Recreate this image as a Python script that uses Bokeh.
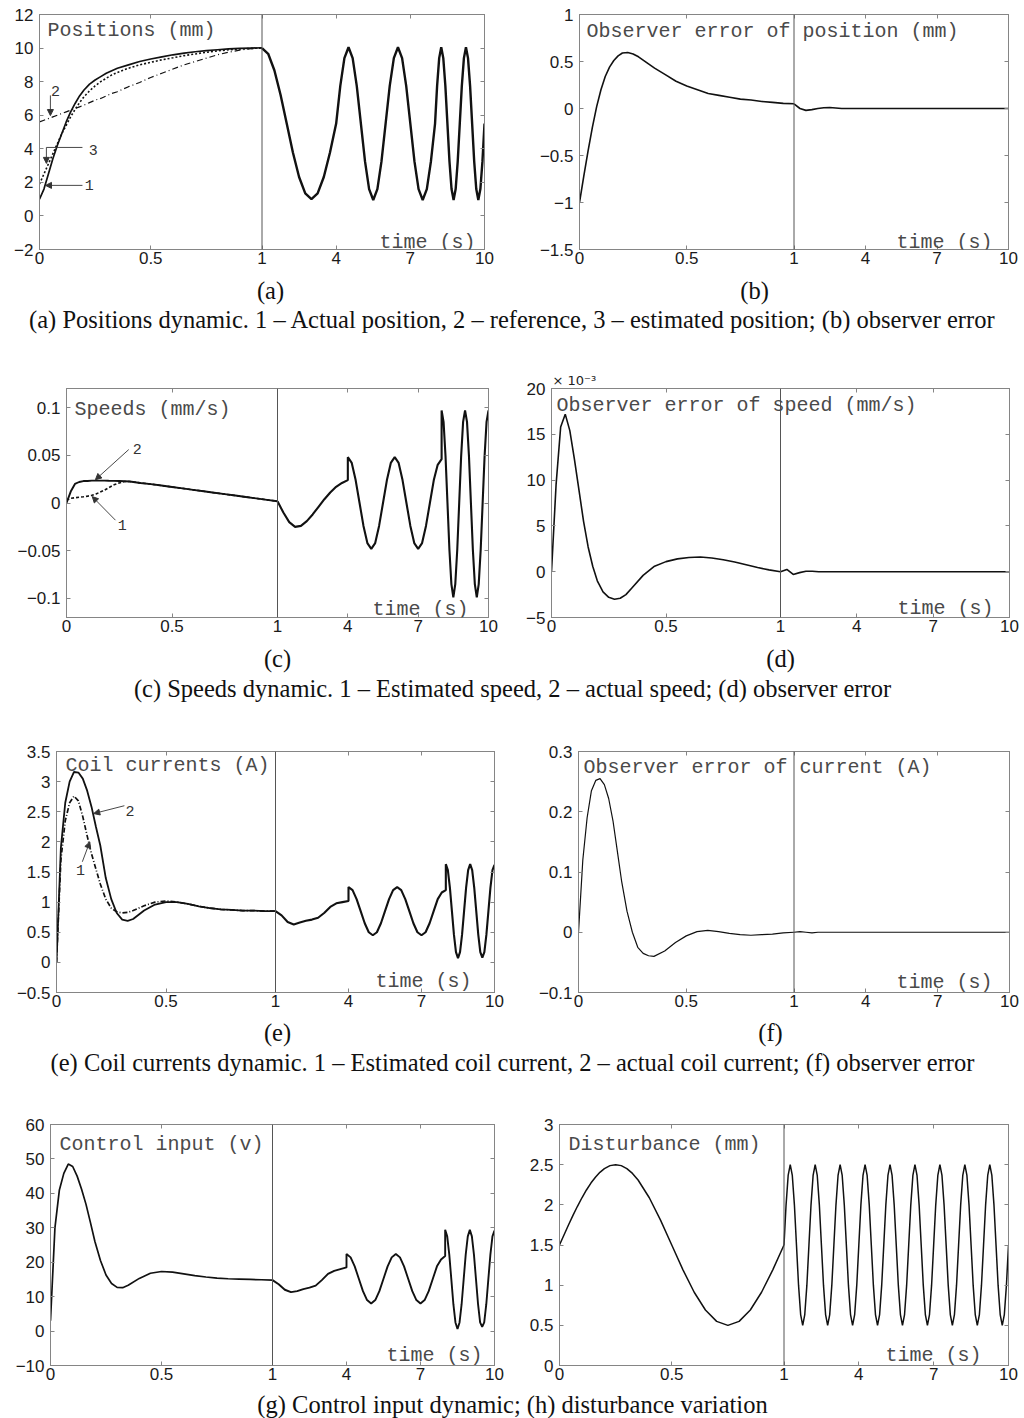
from bokeh.plotting import figure
from bokeh.models import Range1d, LinearAxis, FixedTicker, Span, Label, Arrow, NormalHead, Title
from bokeh.layouts import column, row
from bokeh.embed import file_html
from bokeh.resources import INLINE
from bokeh.core.properties import value

# ---------------- time grids (s) ----------------
t_early = [0.0, 0.02, 0.04, 0.06, 0.08, 0.1, 0.12, 0.14, 0.16, 0.18, 0.2, 0.225, 0.25, 0.275,
           0.3, 0.325, 0.35, 0.4, 0.45, 0.5, 0.55, 0.6, 0.65, 0.7, 0.75, 0.8, 0.85, 0.9, 0.95, 1.0]
t_late = [1.0, 1.25, 1.5, 1.75, 2.0, 2.25, 2.5, 2.75, 3.0, 3.25, 3.5, 3.75, 4.0,
          4.0, 4.167, 4.333, 4.5, 4.667, 4.833, 5.0, 5.167, 5.333, 5.5, 5.667, 5.833,
          6.0, 6.167, 6.333, 6.5, 6.667, 6.833, 7.0, 7.167, 7.333, 7.5, 7.667, 7.833, 8.0,
          8.0, 8.083, 8.167, 8.25, 8.333, 8.417, 8.5, 8.583, 8.667, 8.75, 8.833, 8.917,
          9.0, 9.083, 9.167, 9.25, 9.333, 9.417, 9.5, 9.583, 9.667, 9.75, 9.833, 9.917, 10.0]
t_flat = [1.0, 1.25, 1.5, 1.75, 2.0, 2.25, 2.5, 2.75, 3.0, 3.5, 4.0, 7.0, 10.0]
t_dist = [1.0, 1.083, 1.167, 1.25, 1.333, 1.417, 1.5, 1.583, 1.667, 1.75, 1.833, 1.917,
          2.0, 2.083, 2.167, 2.25, 2.333, 2.417, 2.5, 2.583, 2.667, 2.75, 2.833, 2.917,
          3.0, 3.083, 3.167, 3.25, 3.333, 3.417, 3.5, 3.583, 3.667, 3.75, 3.833, 3.917,
          4.0, 4.083, 4.167, 4.25, 4.333, 4.417, 4.5, 4.583, 4.667, 4.75, 4.833, 4.917,
          5.0, 5.083, 5.167, 5.25, 5.333, 5.417, 5.5, 5.583, 5.667, 5.75, 5.833, 5.917,
          6.0, 6.083, 6.167, 6.25, 6.333, 6.417, 6.5, 6.583, 6.667, 6.75, 6.833, 6.917,
          7.0, 7.083, 7.167, 7.25, 7.333, 7.417, 7.5, 7.583, 7.667, 7.75, 7.833, 7.917,
          8.0, 8.083, 8.167, 8.25, 8.333, 8.417, 8.5, 8.583, 8.667, 8.75, 8.833, 8.917,
          9.0, 9.083, 9.167, 9.25, 9.333, 9.417, 9.5, 9.583, 9.667, 9.75, 9.833, 9.917,
          10.0]

x_tick_times = [0, 0.5, 1, 4, 7, 10]
x_tick_labels = ["0", "0.5", "1", "4", "7", "10"]

# ---------------- (a) positions (mm) ----------------
a_actual = [1.0, 1.6, 2.5, 3.4, 4.2, 4.9, 5.6, 6.2, 6.7, 7.15, 7.5, 7.85, 8.1, 8.3, 8.5, 8.65, 8.8,
            9.0, 9.2, 9.35, 9.48, 9.6, 9.7, 9.78, 9.85, 9.9, 9.95, 9.98, 10.0, 10.02]
a_reference = [5.6, 5.7, 5.8, 5.9, 6.0, 6.1, 6.2, 6.3, 6.4, 6.5, 6.6, 6.75, 6.9, 7.0, 7.15, 7.3, 7.4,
               7.7, 7.95, 8.25, 8.5, 8.75, 9.0, 9.2, 9.4, 9.6, 9.75, 9.88, 9.96, 10.0]
a_estimated = [1.9, 2.5, 3.1, 3.7, 4.3, 4.9, 5.4, 5.9, 6.35, 6.75, 7.1, 7.45, 7.75, 8.0, 8.2, 8.4, 8.55,
               8.8, 9.0, 9.15, 9.3, 9.42, 9.55, 9.65, 9.75, 9.83, 9.9, 9.95, 9.98, 10.0]
a_late = [10.0, 9.66, 8.68, 7.22, 5.5, 3.78, 2.32, 1.34, 1.0, 1.34, 2.32, 3.78, 5.5,
          5.5, 7.75, 9.4, 10.05, 9.4, 7.75, 5.5, 3.25, 1.6, 0.95, 1.6, 3.25,
          5.5, 7.75, 9.4, 10.05, 9.4, 7.75, 5.5, 3.25, 1.6, 0.95, 1.6, 3.25, 5.5,
          5.5, 7.75, 9.4, 10.05, 9.4, 7.75, 5.5, 3.25, 1.6, 0.95, 1.6, 3.25,
          5.5, 7.75, 9.4, 10.05, 9.4, 7.75, 5.5, 3.25, 1.6, 0.95, 1.6, 3.25, 5.5]
a_yticks = [-2, 0, 2, 4, 6, 8, 10, 12]
a_ylabels = ["\u22122", "0", "2", "4", "6", "8", "10", "12"]

# ---------------- (b) observer error of position (mm) ----------------
b_early = [-1.0, -0.72, -0.45, -0.2, 0.02, 0.2, 0.34, 0.44, 0.51, 0.56, 0.59, 0.595, 0.58, 0.55, 0.51,
           0.47, 0.43, 0.36, 0.29, 0.24, 0.2, 0.16, 0.14, 0.12, 0.1, 0.09, 0.075, 0.065, 0.055, 0.05]
b_late = [0.05, 0.0, -0.02, -0.012, 0.0, 0.008, 0.01, 0.005, 0.0, 0.0, 0.0, 0.0, 0.0]
b_yticks = [-1.5, -1, -0.5, 0, 0.5, 1]
b_ylabels = ["\u22121.5", "\u22121", "\u22120.5", "0", "0.5", "1"]

# ---------------- (c) speeds (mm/s) ----------------
c_actual = [0.0, 0.012, 0.02, 0.022, 0.023, 0.023, 0.0235, 0.0235, 0.0235, 0.0235, 0.0233, 0.0232,
            0.023, 0.0228, 0.0225, 0.0218, 0.021, 0.0198, 0.0183, 0.0168, 0.0153, 0.0138, 0.0123,
            0.0108, 0.0093, 0.0078, 0.0063, 0.0048, 0.0033, 0.0018]
c_estimated = [0.003, 0.005, 0.0055, 0.006, 0.0065, 0.0072, 0.008, 0.0095, 0.0115, 0.0135, 0.016,
               0.019, 0.021, 0.0225, 0.0225, 0.0218, 0.021, 0.0198, 0.0183, 0.0168, 0.0153, 0.0138,
               0.0123, 0.0108, 0.0093, 0.0078, 0.0063, 0.0048, 0.0033, 0.0018]
c_late = [0.0018, -0.01, -0.02, -0.025, -0.024, -0.019, -0.012, -0.004, 0.004, 0.011, 0.017, 0.021, 0.024,
          0.048, 0.042, 0.024, 0.0, -0.024, -0.042, -0.048, -0.042, -0.024, 0.0, 0.024, 0.042,
          0.048, 0.042, 0.024, 0.0, -0.024, -0.042, -0.048, -0.042, -0.024, 0.0, 0.024, 0.040, 0.046,
          0.097, 0.085, 0.049, 0.0, -0.049, -0.085, -0.099, -0.085, -0.049, 0.0, 0.049, 0.085,
          0.097, 0.085, 0.049, 0.0, -0.049, -0.085, -0.099, -0.085, -0.049, 0.0, 0.049, 0.085, 0.097]
c_yticks = [-0.1, -0.05, 0, 0.05, 0.1]
c_ylabels = ["\u22120.1", "\u22120.05", "0", "0.05", "0.1"]

# ---------------- (d) observer error of speed (x 10^-3 mm/s) ----------------
d_early_e3 = [0.0, 9.5, 15.8, 17.2, 15.4, 12.3, 8.9, 5.5, 2.7, 0.6, -1.0, -2.2, -2.8, -3.0, -2.9,
              -2.5, -1.8, -0.4, 0.6, 1.1, 1.4, 1.55, 1.6, 1.5, 1.3, 1.05, 0.75, 0.45, 0.2, 0.0]
d_late_e3 = [0.0, 0.25, -0.3, -0.1, 0.05, 0.05, 0.0, 0.0, 0.0, 0.0, 0.0, 0.0, 0.0]
d_yticks = [-5, 0, 5, 10, 15, 20]
d_ylabels = ["\u22125", "0", "5", "10", "15", "20"]

# ---------------- (e) coil currents (A) ----------------
e_actual = [0.0, 1.9, 2.65, 3.0, 3.16, 3.15, 3.05, 2.85, 2.58, 2.25, 1.94, 1.4, 1.05, 0.82, 0.71,
            0.69, 0.72, 0.86, 0.96, 1.0, 1.0, 0.97, 0.93, 0.9, 0.88, 0.87, 0.86, 0.86, 0.85, 0.85]
e_estimated = [0.0, 1.7, 2.35, 2.65, 2.76, 2.68, 2.42, 2.1, 1.8, 1.55, 1.3, 1.05, 0.9, 0.84, 0.82,
               0.83, 0.86, 0.94, 1.0, 1.02, 1.0, 0.97, 0.93, 0.9, 0.88, 0.87, 0.86, 0.86, 0.85, 0.85]
e_late = [0.85, 0.78, 0.67, 0.63, 0.66, 0.69, 0.71, 0.74, 0.82, 0.92, 0.98, 1.0, 1.02,
          1.25, 1.2, 1.05, 0.85, 0.65, 0.5, 0.45, 0.5, 0.65, 0.85, 1.05, 1.2,
          1.25, 1.2, 1.05, 0.85, 0.65, 0.5, 0.45, 0.5, 0.65, 0.85, 1.05, 1.16, 1.2,
          1.63, 1.53, 1.24, 0.85, 0.46, 0.17, 0.07, 0.17, 0.46, 0.85, 1.24, 1.53,
          1.63, 1.53, 1.24, 0.85, 0.46, 0.17, 0.08, 0.17, 0.46, 0.85, 1.24, 1.53, 1.62]
e_yticks = [-0.5, 0, 0.5, 1, 1.5, 2, 2.5, 3, 3.5]
e_ylabels = ["\u22120.5", "0", "0.5", "1", "1.5", "2", "2.5", "3", "3.5"]

# ---------------- (f) observer error of current (A) ----------------
f_early = [0.0, 0.12, 0.19, 0.235, 0.252, 0.255, 0.245, 0.222, 0.185, 0.135, 0.085, 0.035, 0.0,
           -0.025, -0.035, -0.039, -0.04, -0.031, -0.017, -0.006, 0.001, 0.003, 0.001, -0.002,
           -0.004, -0.005, -0.004, -0.003, -0.001, 0.0]
f_late = [0.0, 0.001, 0.0, -0.001, 0.0, 0.0, 0.0, 0.0, 0.0, 0.0, 0.0, 0.0, 0.0]
f_yticks = [-0.1, 0, 0.1, 0.2, 0.3]
f_ylabels = ["\u22120.1", "0", "0.1", "0.2", "0.3"]

# ---------------- (g) control input (V) ----------------
g_early = [3.0, 30.0, 41.0, 45.8, 48.5, 47.8, 45.0, 41.2, 36.8, 31.5, 26.0, 20.5, 16.3, 13.8, 12.7,
           12.6, 13.3, 15.3, 16.8, 17.3, 17.1, 16.6, 16.1, 15.7, 15.4, 15.2, 15.1, 15.0, 14.9, 14.8]
g_late = [14.8, 13.6, 12.0, 11.3, 11.6, 12.2, 12.6, 13.2, 14.8, 16.6, 17.5, 18.0, 18.5,
          22.4, 21.4, 18.8, 15.2, 11.6, 9.0, 8.0, 9.0, 11.6, 15.2, 18.8, 21.4,
          22.4, 21.4, 18.8, 15.2, 11.6, 9.0, 8.0, 9.0, 11.6, 15.2, 18.8, 20.8, 21.8,
          29.4, 27.5, 22.2, 15.0, 7.8, 2.5, 0.6, 2.5, 7.8, 15.0, 22.2, 27.5,
          29.4, 27.5, 22.2, 15.0, 7.8, 2.5, 1.2, 2.5, 7.8, 15.0, 22.2, 27.5, 29.2]
g_yticks = [-10, 0, 10, 20, 30, 40, 50, 60]
g_ylabels = ["\u221210", "0", "10", "20", "30", "40", "50", "60"]

# ---------------- (h) disturbance (mm) ----------------
h_early = [1.5, 1.625, 1.749, 1.868, 1.982, 2.088, 2.185, 2.271, 2.344, 2.405, 2.451, 2.488, 2.5,
           2.488, 2.451, 2.391, 2.309, 2.088, 1.809, 1.5, 1.191, 0.912, 0.691, 0.549, 0.5, 0.549,
           0.691, 0.912, 1.191, 1.5]
h_late = [1.5, 2.0, 2.366, 2.5, 2.366, 2.0, 1.5, 1.0, 0.634, 0.5, 0.634, 1.0,
          1.5, 2.0, 2.366, 2.5, 2.366, 2.0, 1.5, 1.0, 0.634, 0.5, 0.634, 1.0,
          1.5, 2.0, 2.366, 2.5, 2.366, 2.0, 1.5, 1.0, 0.634, 0.5, 0.634, 1.0,
          1.5, 2.0, 2.366, 2.5, 2.366, 2.0, 1.5, 1.0, 0.634, 0.5, 0.634, 1.0,
          1.5, 2.0, 2.366, 2.5, 2.366, 2.0, 1.5, 1.0, 0.634, 0.5, 0.634, 1.0,
          1.5, 2.0, 2.366, 2.5, 2.366, 2.0, 1.5, 1.0, 0.634, 0.5, 0.634, 1.0,
          1.5, 2.0, 2.366, 2.5, 2.366, 2.0, 1.5, 1.0, 0.634, 0.5, 0.634, 1.0,
          1.5, 2.0, 2.366, 2.5, 2.366, 2.0, 1.5, 1.0, 0.634, 0.5, 0.634, 1.0,
          1.5, 2.0, 2.366, 2.5, 2.366, 2.0, 1.5, 1.0, 0.634, 0.5, 0.634, 1.0,
          1.5]
h_yticks = [0, 0.5, 1, 1.5, 2, 2.5, 3]
h_ylabels = ["0", "0.5", "1", "1.5", "2", "2.5", "3"]

captions = [
    "(a) Positions dynamic. 1 \u2013 Actual position, 2 \u2013 reference, 3 \u2013 estimated position; (b) observer error",
    "(c) Speeds dynamic. 1 \u2013 Estimated speed, 2 \u2013 actual speed; (d) observer error",
    "(e) Coil currents dynamic. 1 \u2013 Estimated coil current, 2 \u2013 actual coil current; (f) observer error",
    "(g) Control input dynamic; (h) disturbance variation",
]

for arr in (a_actual, a_reference, a_estimated, b_early, c_actual, c_estimated, d_early_e3,
            e_actual, e_estimated, f_early, g_early, h_early):
    assert len(arr) == len(t_early)
for arr in (a_late, c_late, e_late, g_late):
    assert len(arr) == len(t_late)
for arr in (b_late, d_late_e3, f_late):
    assert len(arr) == len(t_flat)
assert len(h_late) == len(t_dist)

# ---------------- styling ----------------
FRAME = "#858585"
INK = "#111111"
TXT = "#4a4a4a"
ANN = "#333333"
MONO = "Liberation Mono"
SANS = "Liberation Sans"
SERIF = "Liberation Serif"
TICK_FS = "17px"


def panel(w, h, bl, br, bt, bb, yr, yticks, ylabels):
    p = figure(width=w, height=h, x_range=Range1d(0, 2), y_range=Range1d(*yr),
               extra_x_ranges={"late": Range1d(-8, 10)},
               x_axis_location=None, y_axis_location=None,
               toolbar_location=None, output_backend="svg",
               min_border_left=bl, min_border_right=br, min_border_top=bt, min_border_bottom=bb)
    p.xgrid.grid_line_color = None
    p.ygrid.grid_line_color = None
    p.outline_line_color = FRAME
    p.outline_line_width = 1
    p.background_fill_color = "white"
    p.border_fill_color = "white"
    xpos = [float(t) if t > 1 else 1.0 + (t - 1.0) * 9.0 for t in x_tick_times]
    common = dict(axis_line_color=FRAME, major_tick_line_color=FRAME, major_tick_in=4,
                  major_tick_out=0, minor_tick_line_color=None,
                  major_label_text_font=SANS, major_label_text_font_size=TICK_FS,
                  major_label_text_color="#1a1a1a")
    hidden = dict(common, major_label_text_font_size="0px", major_label_text_color=None,
                  major_label_standoff=0)
    p.add_layout(LinearAxis(x_range_name="late", ticker=FixedTicker(ticks=xpos),
                            major_label_overrides=dict(zip(xpos, x_tick_labels)),
                            major_label_standoff=2, **common), "below")
    p.add_layout(LinearAxis(x_range_name="late", ticker=FixedTicker(ticks=xpos), **hidden), "above")
    yt = [float(v) for v in yticks]
    p.add_layout(LinearAxis(ticker=FixedTicker(ticks=yt),
                            major_label_overrides=dict(zip(yt, ylabels)),
                            major_label_standoff=6, **common), "left")
    p.add_layout(LinearAxis(ticker=FixedTicker(ticks=yt), **hidden), "right")
    p.add_layout(Span(location=1, dimension="height", line_color="#555555", line_width=1))
    return p


def texts(p, title, fw, fh, yr, tdx, tdy, sdx, sdy):
    span = yr[1] - yr[0]
    p.add_layout(Label(x=tdx / (fw / 2.0), y=yr[1] - tdy * span / fh, text=title,
                       text_font=MONO, text_font_size="20px", text_color=TXT,
                       text_align="left", text_baseline="top"))
    p.add_layout(Label(x=2.0 - sdx / (fw / 2.0), y=yr[0] + sdy * span / fh, text="time (s)",
                       text_font=MONO, text_font_size="20px", text_color=TXT,
                       text_align="right", text_baseline="alphabetic"))


def note(p, x, y, s):
    p.add_layout(Label(x=x, y=y, text=s, text_font=MONO, text_font_size="15px", text_color=ANN,
                       text_align="center", text_baseline="middle"))


def arrow(p, x0, y0, x1, y1, head=True):
    end = NormalHead(size=6, fill_color=ANN, line_color=ANN) if head else None
    p.add_layout(Arrow(end=end, x_start=x0, y_start=y0, x_end=x1, y_end=y1,
                       line_color=ANN, line_width=0.9))


# ---------------- (a) ----------------
ya = (-2, 12)
pa = panel(520, 274, 39, 36, 14, 25, ya, a_yticks, a_ylabels)
pa.line(t_early, a_reference, line_color=INK, line_width=1.2, line_dash="6 3 1 3")
pa.line(t_early, a_estimated, line_color=INK, line_width=1.6, line_dash="2 2")
pa.line(t_early, a_actual, line_color=INK, line_width=1.7)
pa.line(t_late, a_late, x_range_name="late", line_color=INK, line_width=2.4)
texts(pa, "Positions (mm)", 445, 235, ya, 8, 4, 9, 7)
note(pa, 0.072, 7.47, "2")
arrow(pa, 0.049, 7.18, 0.049, 5.98)
note(pa, 0.242, 3.9, "3")
arrow(pa, 0.193, 4.08, 0.031, 4.08, head=False)
arrow(pa, 0.031, 4.08, 0.031, 3.13)
note(pa, 0.224, 1.82, "1")
arrow(pa, 0.193, 1.82, 0.027, 1.82)

# ---------------- (b) ----------------
yb = (-1.5, 1)
pb = panel(504, 274, 59, 16, 14, 25, yb, b_yticks, b_ylabels)
pb.line(t_early, b_early, line_color=INK, line_width=1.6)
pb.line(t_flat, b_late, x_range_name="late", line_color=INK, line_width=1.6)
texts(pb, "Observer error of position (mm)", 429, 235, yb, 7, 5, 16, 7)

# ---------------- (c) ----------------
yc = (-0.12, 0.12)
pc = panel(520, 277, 66, 32, 16, 25, yc, c_yticks, c_ylabels)
pc.line(t_early, c_estimated, line_color=INK, line_width=1.6, line_dash="3 2")
pc.line(t_early, c_actual, line_color=INK, line_width=1.9)
pc.line(t_late, c_late, x_range_name="late", line_color=INK, line_width=2.1)
texts(pc, "Speeds (mm/s)", 422, 236, yc, 8, 10, 20, 8)
note(pc, 0.335, 0.057, "2")
arrow(pc, 0.295, 0.056, 0.137, 0.0244)
note(pc, 0.264, -0.023, "1")
arrow(pc, 0.232, -0.018, 0.122, 0.0067)

# ---------------- (d) ----------------
yd = (-5, 20)
pdd = panel(504, 277, 31, 15, 23, 21, yd, d_yticks, d_ylabels)
pdd.line(t_early, d_early_e3, line_color=INK, line_width=1.6)
pdd.line(t_flat, d_late_e3, x_range_name="late", line_color=INK, line_width=1.6)
texts(pdd, "Observer error of speed (mm/s)", 458, 233, yd, 5, 6, 16, 9)
pdd.add_layout(Title(text="\u00d7 10\u207b\u00b3", align="left", text_font="DejaVu Sans",
                     text_font_size="13px", text_font_style="normal", text_color="#222222",
                     standoff=1, offset=1), "above")

# ---------------- (e) ----------------
ye = (-0.5, 3.5)
pe = panel(520, 282, 56, 26, 16, 25, ye, e_yticks, e_ylabels)
pe.line(t_early, e_estimated, line_color=INK, line_width=1.7, line_dash="5 2 1 2")
pe.line(t_early, e_actual, line_color=INK, line_width=1.8)
pe.line(t_late, e_late, x_range_name="late", line_color=INK, line_width=2.1)
texts(pe, "Coil currents (A)", 438, 241, ye, 9, 2, 23, 11)
note(pe, 0.336, 2.51, "2")
arrow(pe, 0.31, 2.6, 0.17, 2.47)
note(pe, 0.11, 1.53, "1")
arrow(pe, 0.118, 1.67, 0.152, 2.0)

# ---------------- (f) ----------------
yf = (-0.1, 0.3)
pf = panel(504, 282, 58, 15, 15, 25, yf, f_yticks, f_ylabels)
pf.line(t_early, f_early, line_color=INK, line_width=1.2)
pf.line(t_flat, f_late, x_range_name="late", line_color=INK, line_width=1.2)
texts(pf, "Observer error of current (A)", 431, 242, yf, 5, 5, 17, 10)

# ---------------- (g) ----------------
yg = (-10, 60)
pg = panel(520, 285, 50, 26, 19, 25, yg, g_yticks, g_ylabels)
pg.line(t_early, g_early, line_color=INK, line_width=1.7)
pg.line(t_late, g_late, x_range_name="late", line_color=INK, line_width=1.9)
texts(pg, "Control input (v)", 444, 241, yg, 9, 8, 12, 10)

# ---------------- (h) ----------------
yh = (0, 3)
ph = panel(504, 285, 39, 16, 19, 25, yh, h_yticks, h_ylabels)
ph.line(t_early, h_early, line_color=INK, line_width=1.5)
ph.line(t_dist, h_late, x_range_name="late", line_color=INK, line_width=1.5)
texts(ph, "Disturbance (mm)", 449, 241, yh, 9, 8, 27, 10)


# ---------------- caption strips ----------------
def caption(h, subs, text, ty):
    c = figure(width=1024, height=h, x_range=Range1d(0, 1024), y_range=Range1d(h, 0),
               x_axis_location=None, y_axis_location=None, toolbar_location=None,
               output_backend="svg", min_border=0)
    c.outline_line_color = None
    c.xgrid.grid_line_color = None
    c.ygrid.grid_line_color = None
    xs = [s[0] for s in subs] + [512]
    ys = [s[1] for s in subs] + [ty]
    ts = [s[2] for s in subs] + [text]
    c.text(x=xs, y=ys, text=ts, text_font=value(SERIF), text_font_size="24.5px",
           text_align="center", text_baseline="middle", text_color="#111111")
    return c


cap1 = caption(91, [(270, 16, "(a)"), (754, 16, "(b)")], captions[0], 45)
cap2 = caption(93, [(277, 16, "(c)"), (780, 16, "(d)")], captions[1], 46)
cap3 = caption(88, [(277, 15, "(e)"), (770, 15, "(f)")], captions[2], 45)
cap4 = caption(28, [], captions[3], 14)

layout = column(row(pa, pb), cap1, row(pc, pdd), cap2, row(pe, pf), cap3, row(pg, ph), cap4)

open("out.html", "w").write(file_html(layout, INLINE))
